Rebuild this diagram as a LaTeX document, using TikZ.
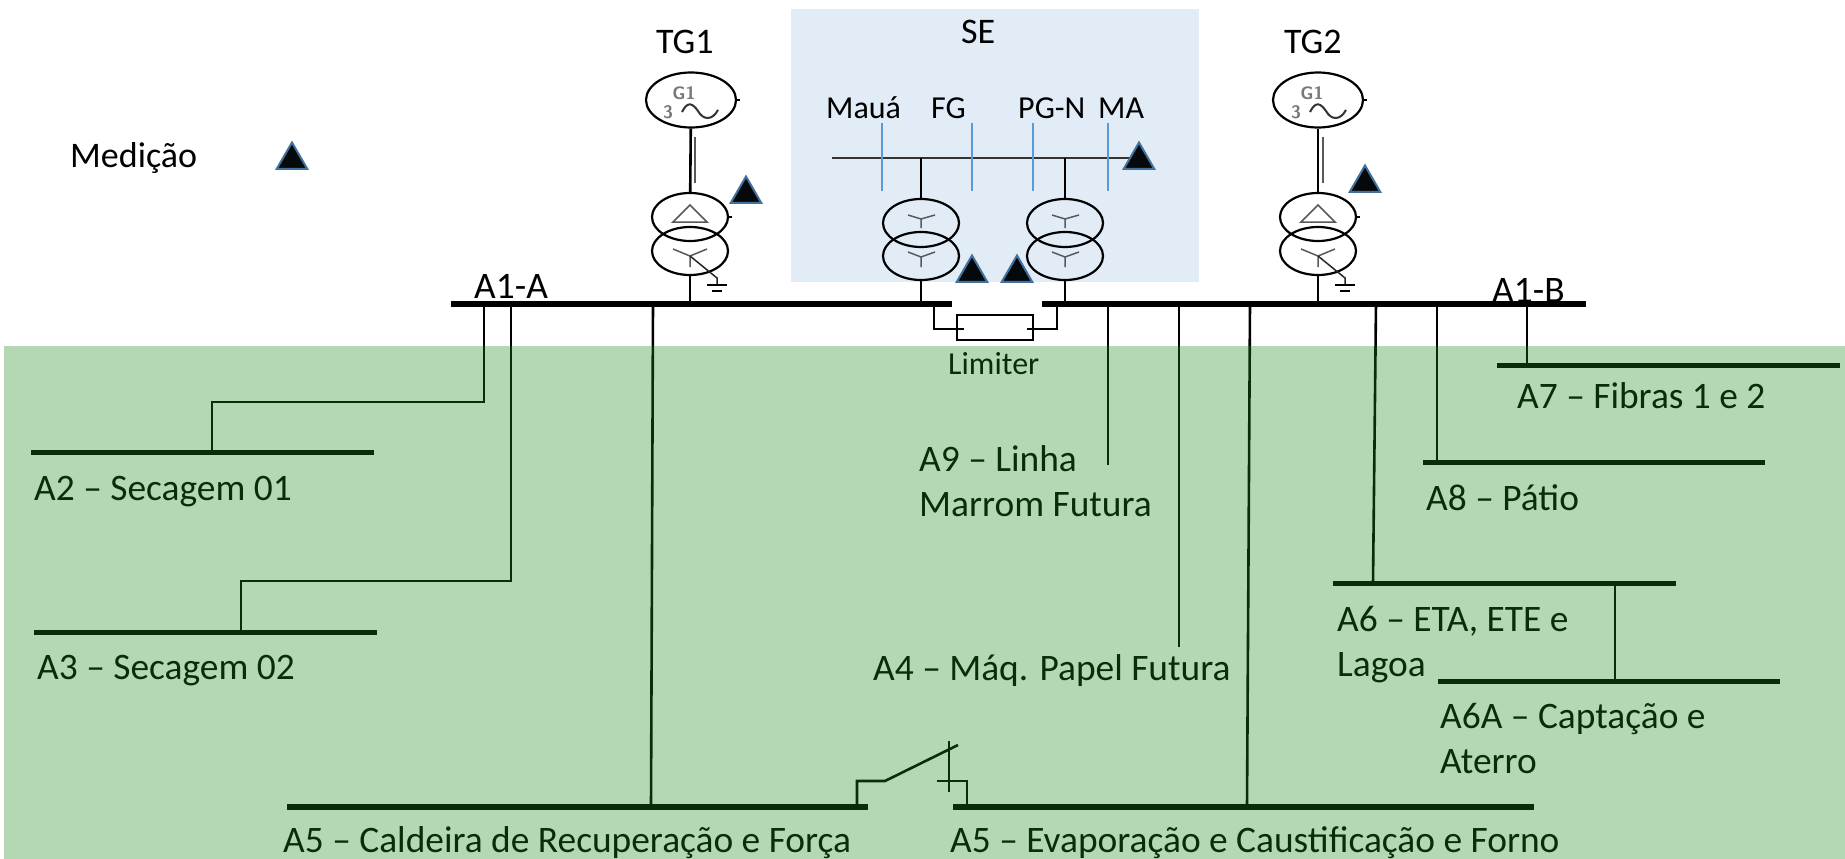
\documentclass[tikz,border=0pt]{standalone}
\usepackage{fontspec}
\setmainfont{Carlito}
\usetikzlibrary{shapes.geometric}
\definecolor{C0}{RGB}{226,236,246}
\definecolor{C1}{RGB}{30,139,30}
\definecolor{C2}{RGB}{65,113,156}
\definecolor{C3}{RGB}{91,155,213}
\definecolor{C4}{RGB}{120,120,120}
\tikzset{
  wire/.style={line width=2.6pt,black},
  busbar/.style={line width=6pt,black},
  thinwire/.style={line width=1.5pt,black!80},
  tap/.style={line width=1.2pt,C3},
  winding/.style={draw,ellipse,line width=2.2pt,minimum width=76pt,minimum height=48pt,inner sep=0pt},
  machine/.style={draw,ellipse,line width=2.2pt,minimum width=90pt,minimum height=55pt,inner sep=0pt},
  meas/.style={draw=C2,fill=black!92!C2,line width=2pt,regular polygon,regular polygon sides=3,minimum size=35pt,inner sep=0pt},
  coil/.style={line width=1.5pt,black!65},
  lbl/.style={anchor=base west,inner sep=0pt,font=\fontsize{37.4}{37.4}\selectfont},
  small/.style={anchor=base west,inner sep=0pt,font=\fontsize{32}{32}\selectfont},
  title/.style={anchor=base west,inner sep=0pt,font=\fontsize{36}{36}\selectfont},
  genmark/.style={inner sep=0pt,C4,font=\sffamily\bfseries\fontsize{18}{18}\selectfont}
}
\begin{document}
\begin{tikzpicture}[x=1pt,y=-1pt]
    \useasboundingbox (0,0) rectangle (1845,859);
    \fill[white] (0,0) rectangle (1845,859);
    \fill[C0] (791,9) rectangle (1199,282);

    % busbars
    \coordinate (busAw) at (451,303.5);
    \coordinate (busAe) at (952,303.5);
    \coordinate (busBw) at (1042,303.5);
    \coordinate (busBe) at (1586,303.5);
    \draw[busbar] (busAw) -- (busAe);
    \draw[busbar] (busBw) -- (busBe);

    % TG1
    \node[machine] (gen1) at (691,100) {};
    \node[winding] (tr1a) at (690,217) {};
    \node[winding] (tr1b) at (690,251) {};
    \node[genmark] (gen1n) at (684,93) {G1};
    \node[genmark] (gen1p) at (668,112) {3};
    \draw[wire] (gen1) -- (tr1a);
    \draw[wire] (tr1b) -- (tr1b |- busAw);
    \draw[coil] (695,137) -- (695,183);
    \draw[line width=2pt,black!80] (682,112) .. controls (688,100) and (693,104) .. (698,111) .. controls (703,120) and (712,121) .. (718,110);
    \draw[coil] (690,205) -- (707,222) -- (673,222) -- cycle;
    \draw[coil] (673,249) -- (690,256) -- (707,249) (690,256) -- (690,267);
    \draw[coil,black!85] (690,256) -- (717,278) -- (717,285);
    \draw[line width=2pt] (707,285) -- (727,285);
    \draw[line width=2pt] (712,291) -- (722,291);
    \draw[line width=1.5pt] (gen1.east) -- +(3,0);
    \draw[line width=1.5pt] (tr1a.east) -- +(3,0);

    % TG2
    \node[machine] (gen2) at (1318,100) {};
    \node[winding] (tr2a) at (1318,217) {};
    \node[winding] (tr2b) at (1318,251) {};
    \node[genmark] (gen2n) at (1312,93) {G1};
    \node[genmark] (gen2p) at (1296,112) {3};
    \draw[wire] (gen2) -- (tr2a);
    \draw[wire] (tr2b) -- (tr2b |- busBw);
    \draw[coil] (1323,137) -- (1323,183);
    \draw[line width=2pt,black!80] (1310,112) .. controls (1316,100) and (1321,104) .. (1326,111) .. controls (1331,120) and (1340,121) .. (1346,110);
    \draw[coil] (1318,205) -- (1335,222) -- (1301,222) -- cycle;
    \draw[coil] (1301,249) -- (1318,256) -- (1335,249) (1318,256) -- (1318,267);
    \draw[coil,black!85] (1318,256) -- (1345,278) -- (1345,285);
    \draw[line width=2pt] (1335,285) -- (1355,285);
    \draw[line width=2pt] (1340,291) -- (1350,291);
    \draw[line width=1.5pt] (gen2.east) -- +(3,0);
    \draw[line width=1.5pt] (tr2a.east) -- +(3,0);

    % SE
    \coordinate (sebw) at (832,158);
    \coordinate (sebe) at (1148,158);
    \draw[thinwire] (sebw) -- (sebe);
    \node[winding] (tr3a) at (921,223) {};
    \node[winding] (tr3b) at (921,256) {};
    \node[winding] (tr4a) at (1065,223) {};
    \node[winding] (tr4b) at (1065,256) {};
    \draw[wire] (tr3a) -- (tr3a |- sebw);
    \draw[wire] (tr4a) -- (tr4a |- sebw);
    \draw[wire] (tr3b) -- (tr3b |- busAw);
    \draw[wire] (tr4b) -- (tr4b |- busBw);
    \draw[coil] (908,215) -- (921,219) -- (935,215) (921,219) -- (921,228);
    \draw[coil] (908,252) -- (921,257) -- (935,252) (921,257) -- (921,267);
    \draw[coil] (1052,215) -- (1065,219) -- (1079,215) (1065,219) -- (1065,228);
    \draw[coil] (1052,252) -- (1065,257) -- (1079,252) (1065,257) -- (1065,267);
    \draw[tap] (882,123) -- (882,191);
    \draw[tap] (972,123) -- (972,191);
    \draw[tap] (1033,123) -- (1033,191);
    \draw[tap] (1108,123) -- (1108,191);

    % limiter
    \node[draw,line width=2.4pt,minimum width=76pt,minimum height=25pt,inner sep=0pt] (lim) at (995,327.5) {};
    \coordinate (limw) at (964,329);
    \coordinate (lime) at (1027,329);
    \draw[wire] (934,303) |- (limw);
    \draw[wire] (1057,303) |- (lime);

    % feeders
    \coordinate (a2bw) at (31,452);
    \coordinate (a2be) at (374,452);
    \coordinate (a3bw) at (34,632);
    \coordinate (a3be) at (377,632);
    \coordinate (a5bw) at (287,807);
    \coordinate (a5be) at (868,807);
    \coordinate (a5cw) at (953,807);
    \coordinate (a5ce) at (1534,807);
    \coordinate (a6bw) at (1333,583);
    \coordinate (a6be) at (1676,583);
    \coordinate (a6abw) at (1438,681);
    \coordinate (a6abe) at (1780,681);
    \coordinate (a7bw) at (1497,365);
    \coordinate (a7be) at (1840,365);
    \coordinate (a8bw) at (1423,462);
    \coordinate (a8be) at (1765,462);
    \draw[busbar,line width=5pt] (a2bw) -- (a2be);
    \draw[busbar,line width=5pt] (a3bw) -- (a3be);
    \draw[busbar] (a5bw) -- (a5be);
    \draw[busbar] (a5cw) -- (a5ce);
    \draw[busbar,line width=5pt] (a6bw) -- (a6be);
    \draw[busbar,line width=5pt] (a6abw) -- (a6abe);
    \draw[busbar,line width=5pt] (a7bw) -- (a7be);
    \draw[busbar,line width=5pt] (a8bw) -- (a8be);

    \draw[wire] (484,303) -- (484,402) -| (212,452);
    \draw[wire] (511,303) -- (511,581) -| (241,632);
    \draw[wire] (653,303) -- (651,807);
    \draw[wire] (1108,303) -- (1108,465);
    \draw[wire] (1179,303) -- (1179,647);
    \draw[wire] (1250,303) -- (1247,807);
    \draw[wire] (1376,303) -- (1373,583);
    \draw[wire] (1615,583) -- (1615,681);
    \draw[wire] (1437,303) -- (1437,462);
    \draw[wire] (1527,303) -- (1527,365);

    % switch
    \draw[wire] (857,807) |- (885,781) -- (958,745);
    \draw[wire] (949,741) -- (949,792);
    \draw[wire] (937,781) -| (967,807);

    % measurement marks
    \node[meas] (m0) at (292,160) {};
    \node[meas] (m1) at (746,194) {};
    \node[meas] (m2) at (972,273) {};
    \node[meas] (m3) at (1017,273) {};
    \node[meas] (m4) at (1139,160) {};
    \node[meas] (m5) at (1365,183) {};

    % labels
    \node[title] (medicao) at (70,167) {Medição};
    \node[title] (tg1) at (656,54) {TG1};
    \node[title] (tg2) at (1284,54) {TG2};
    \node[title] (se) at (961,44) {SE};
    \node[small] (maua) at (826,118) {Mauá};
    \node[small] (fg) at (931,118) {FG};
    \node[small] (pgn) at (1018,118) {PG-N};
    \node[small] (ma) at (1098,118) {MA};
    \node[lbl] (a1a) at (474,298) {A1-A};
    \node[lbl] (a1b) at (1492,302) {A1-B};
    \node[small] (limiter) at (948,374) {Limiter};
    \node[lbl] (a2) at (34,500) {A2 – Secagem 01};
    \node[lbl] (a3) at (37,679) {A3 – Secagem 02};
    \node[lbl] (a5) at (283,852) {A5 – Caldeira de Recuperação e Força};
    \node[lbl] (a5c) at (950,852) {A5 – Evaporação e Caustificação e Forno};
    \node[lbl] (a9) at (919,471) {A9 – Linha};
    \node[lbl] (a9b) at (919,516) {Marrom Futura};
    \node[lbl] (a4) at (873,680) {A4 – Máq. Papel Futura};
    \node[lbl] (a6) at (1337,631) {A6 – ETA, ETE e};
    \node[lbl] (a6b) at (1337,676) {Lagoa};
    \node[lbl] (a6a) at (1440,728) {A6A – Captação e};
    \node[lbl] (a6c) at (1440,773) {Aterro};
    \node[lbl] (a8) at (1426,510) {A8 – Pátio};
    \node[lbl] (a7) at (1517,408) {A7 – Fibras 1 e 2};

    % green area on top
    \fill[C1,fill opacity=0.33] (4,346) rectangle (1845,859);
\end{tikzpicture}
\end{document}
